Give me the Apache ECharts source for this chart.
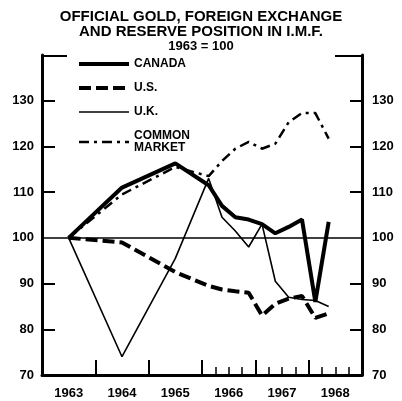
<!DOCTYPE html>
<html>
<head>
<meta charset="utf-8">
<script src="https://cdn.jsdelivr.net/npm/echarts@6/dist/echarts.min.js"></script>
<style>
  html, body { margin: 0; padding: 0; background: #fff; }
  #chart { width: 402px; height: 401px; }
</style>
</head>
<body>
<div id="chart"></div>
<script>
// mid-year points for 1963-65, quarterly from 1966
const periods = [1963.5, 1964.5, 1965.5, 1966.125, 1966.375, 1966.625, 1966.875, 1967.125, 1967.375, 1967.625, 1967.875, 1968.125, 1968.375]
const canada = [100, 111, 116.3, 111.5, 107, 104.5, 104, 103, 101, 102.4, 104, 86, 103.5]
const us = [100, 99, 92.5, 89.5, 88.7, 88.3, 88, 83, 85.6, 86.7, 87.3, 82.5, 83.5]
const uk = [100, 74, 95.5, 113, 104.5, 101.5, 98, 103, 90.5, 87, 86.5, 86.3, 85]
const commonMarket = [100, 109.5, 115.5, 113.5, 116.8, 119.5, 121, 119.5, 120.6, 125.3, 127.3, 127.3, 121.7]

const yearLabels = [1963.5, 1964.5, 1965.5, 1966.5, 1967.5, 1968.5]
const yearTicks = [1964, 1965, 1966, 1967, 1968]
const quarterTicks = [1966.25, 1966.5, 1966.75, 1967.25, 1967.5, 1967.75, 1968.25, 1968.5, 1968.75]
const yLabels = [70, 80, 90, 100, 110, 120, 130]
const yTicks = [80, 90, 110, 120, 130]

const font = 'Liberation Sans'

const styles = {
  canada: { color: '#000', width: 4, type: 'solid' },
  us: { color: '#000', width: 4, type: [12, 5] },
  uk: { color: '#000', width: 1.6, type: 'solid' },
  cm: { color: '#000', width: 2.5, type: [10, 5, 3, 5] }
}

function pairs(values) {
  return values.map((v, i) => [periods[i], v])
}

function yAxisFor(position, margin, tickLen) {
  return {
    type: 'value',
    position: position,
    min: 70,
    max: 140,
    interval: 10,
    axisLine: { show: true, lineStyle: { color: '#000', width: 3 } },
    axisTick: {
      show: true,
      inside: true,
      length: tickLen,
      customValues: yTicks,
      lineStyle: { color: '#000', width: 2 }
    },
    axisLabel: {
      customValues: yLabels,
      margin: margin,
      color: '#000',
      fontFamily: font,
      fontWeight: 'bold',
      fontSize: 13
    },
    splitLine: { show: false }
  }
}

const chart = echarts.init(document.getElementById('chart'))
chart.setOption({
  backgroundColor: '#fff',
  animation: false,
  title: [
    {
      text: 'OFFICIAL GOLD, FOREIGN EXCHANGE\nAND RESERVE POSITION IN I.M.F.',
      left: 'center',
      top: 4,
      textStyle: { fontFamily: font, fontWeight: 'bold', fontSize: 15, color: '#000', lineHeight: 15 }
    },
    {
      text: '1963 = 100',
      left: 'center',
      top: 35,
      textStyle: { fontFamily: font, fontWeight: 'bold', fontSize: 13, color: '#000' }
    }
  ],
  legend: {
    orient: 'vertical',
    left: 72,
    top: 53,
    itemWidth: 50,
    itemHeight: 12,
    itemGap: 12,
    itemStyle: { opacity: 0 },
    data: [
      { name: 'CANADA', lineStyle: styles.canada },
      { name: 'U.S.', lineStyle: styles.us },
      { name: 'U.K.', lineStyle: styles.uk },
      { name: 'COMMON MARKET', lineStyle: styles.cm }
    ],
    formatter: (name) => name.replace(' ', '\n'),
    textStyle: { fontFamily: font, fontWeight: 'bold', fontSize: 12, color: '#000', lineHeight: 12 }
  },
  grid: { left: 42, right: 40, top: 55, bottom: 26 },
  xAxis: [
    {
      type: 'value',
      min: 1963,
      max: 1969,
      axisLine: { show: true, lineStyle: { color: '#000', width: 3 } },
      axisTick: {
        show: true,
        inside: true,
        length: 15,
        customValues: yearTicks,
        lineStyle: { color: '#000', width: 2 }
      },
      axisLabel: {
        customValues: yearLabels,
        formatter: (v) => String(Math.floor(v)),
        margin: 12,
        color: '#000',
        fontFamily: font,
        fontWeight: 'bold',
        fontSize: 13
      },
      splitLine: { show: false }
    },
    {
      type: 'value',
      position: 'bottom',
      min: 1963,
      max: 1969,
      axisLine: { show: false },
      axisTick: {
        show: true,
        inside: true,
        length: 8,
        customValues: quarterTicks,
        lineStyle: { color: '#000', width: 1.5 }
      },
      axisLabel: { show: false },
      splitLine: { show: false }
    }
  ],
  yAxis: [yAxisFor('left', 8, 13), yAxisFor('right', 10, 12)],
  graphic: [
    { type: 'line', shape: { x1: 42, y1: 56, x2: 67, y2: 56 }, style: { stroke: '#000', lineWidth: 2 } },
    { type: 'line', shape: { x1: 335, y1: 56, x2: 362, y2: 56 }, style: { stroke: '#000', lineWidth: 2 } }
  ],
  series: [
    {
      name: 'CANADA',
      type: 'line',
      symbol: 'none',
      data: pairs(canada),
      lineStyle: styles.canada,
      itemStyle: { color: '#000' },
      markLine: {
        silent: true,
        symbol: 'none',
        label: { show: false },
        lineStyle: { color: '#000', width: 1.5, type: 'solid' },
        data: [{ yAxis: 100 }]
      }
    },
    {
      name: 'U.S.',
      type: 'line',
      symbol: 'none',
      data: pairs(us),
      lineStyle: styles.us,
      itemStyle: { color: '#000' }
    },
    {
      name: 'U.K.',
      type: 'line',
      symbol: 'none',
      data: pairs(uk),
      lineStyle: styles.uk,
      itemStyle: { color: '#000' }
    },
    {
      name: 'COMMON MARKET',
      type: 'line',
      symbol: 'none',
      data: pairs(commonMarket),
      lineStyle: styles.cm,
      itemStyle: { color: '#000' }
    }
  ]
})
</script>
</body>
</html>
